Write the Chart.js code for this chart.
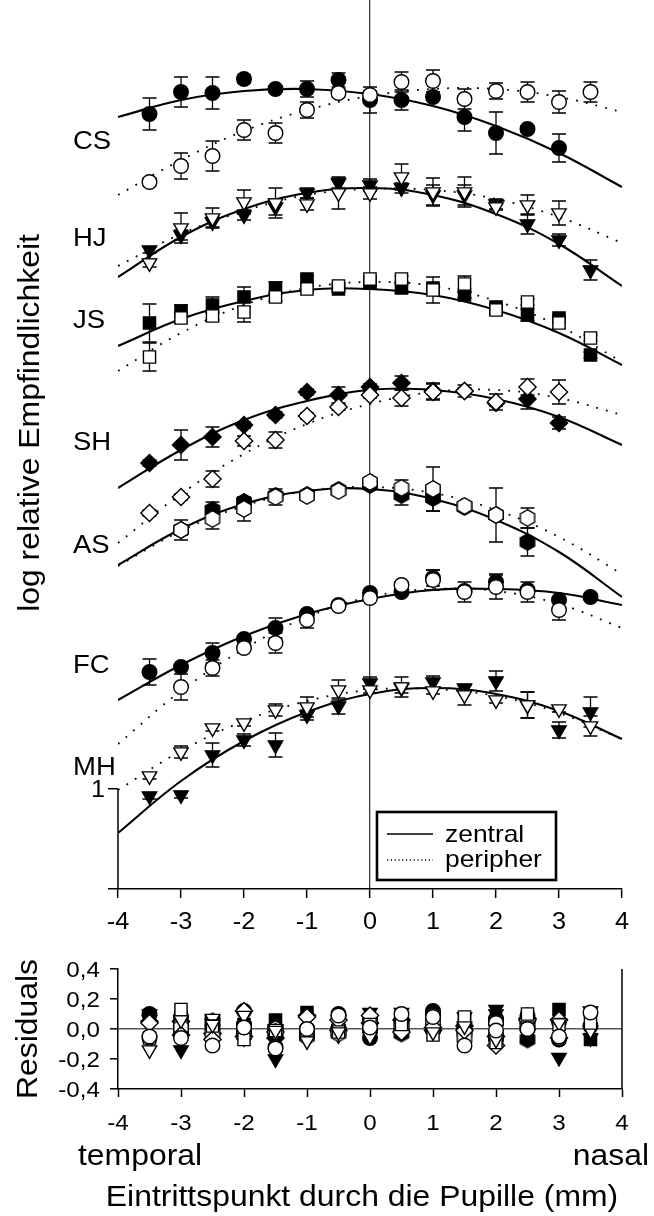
<!DOCTYPE html>
<html>
<head>
<meta charset="utf-8">
<script src="https://cdn.jsdelivr.net/npm/chart.js@4.4.1/dist/chart.umd.min.js"></script>
<style>
  html, body { margin: 0; padding: 0; background: #fff; }
  #page { position: relative; width: 654px; height: 1216px; overflow: hidden; }
  .panel { position: absolute; left: 0; }
</style>
</head>
<body>
<div id="page">
  <div class="panel" style="top:0;width:654px;height:950px"><canvas id="main" width="654" height="950"></canvas></div>
  <div class="panel" style="top:950px;width:654px;height:266px"><canvas id="resid" width="654" height="266"></canvas></div>
</div>
<script>
// Entry points through the pupil (mm) and x positions of the fitted curves
const xPos = [-3.5, -3, -2.5, -2, -1.5, -1, -0.5, 0, 0.5, 1, 1.5, 2, 2.5, 3, 3.5];
const xFit = [-4, -3, -2, -1, 0, 1, 2, 3, 4];
const xTicks = [-4, -3, -2, -1, 0, 1, 2, 3, 4];
const residualTicks = [-0.4, -0.2, 0, 0.2, 0.4];

// CS
const csZentral     = [6.75, 6.97, 6.96, 7.10, 7.00, 7.00, 7.09, 6.89, 6.89, 6.92, 6.72, 6.56, 6.60, 6.41, null];
const csZentralErr  = [0.16, 0.15, 0.16, 0.04, 0.03, 0.08, 0.07, 0.13, 0.10, 0.03, 0.14, 0.21, 0.03, 0.14, null];
const csPeripher    = [6.07, 6.23, 6.33, 6.59, 6.56, 6.79, 6.96, 6.94, 7.07, 7.08, 6.90, 6.98, 6.97, 6.87, 6.97];
const csPeripherErr = [0.04, 0.13, 0.15, 0.10, 0.10, 0.08, 0.04, 0.04, 0.10, 0.11, 0.10, 0.08, 0.10, 0.11, 0.10];
const csFitZentral  = [6.72, 6.89, 6.98, 7.00, 6.95, 6.83, 6.63, 6.36, 6.02];
const csFitPeripher = [5.94, 6.29, 6.58, 6.79, 6.93, 7.00, 7.00, 6.92, 6.77];
const csResZentral  = [-0.06, 0.08, 0.02, 0.12, 0.00, -0.01, 0.10, -0.06, -0.01, 0.10, -0.01, -0.07, 0.09, 0.05, null];
const csResPeripher = [-0.05, -0.06, -0.11, 0.01, -0.13, 0.00, 0.09, 0.01, 0.10, 0.08, -0.11, -0.01, 0.00, -0.05, 0.11];

// HJ
const hjZentral     = [5.39, 5.54, 5.67, 5.74, 5.82, 5.96, 6.06, 6.04, 6.01, 5.94, 5.94, 5.85, 5.65, 5.49, 5.19];
const hjZentralErr  = [0.03, 0.05, 0.05, 0.05, 0.08, 0.05, 0.05, 0.06, 0.05, 0.10, 0.10, 0.05, 0.10, 0.06, 0.10];
const hjPeripher    = [5.26, 5.61, 5.71, 5.87, 5.86, 5.85, 5.96, 5.96, 6.12, 5.97, 5.97, 5.82, 5.84, 5.76, null];
const hjPeripherErr = [0.04, 0.15, 0.10, 0.12, 0.15, 0.06, 0.16, 0.06, 0.13, 0.14, 0.15, 0.03, 0.10, 0.12, null];
const hjFitZentral  = [5.12, 5.52, 5.80, 5.96, 6.01, 5.94, 5.75, 5.45, 5.03];
const hjFitPeripher = [5.23, 5.55, 5.78, 5.94, 6.00, 5.99, 5.90, 5.72, 5.46];
const hjResZentral  = [0.06, 0.02, 0.06, -0.06, -0.07, -0.01, 0.06, 0.03, 0.02, 0.00, 0.08, 0.10, 0.03, 0.04, -0.06];
const hjResPeripher = [-0.14, 0.06, 0.03, 0.09, -0.01, -0.08, -0.02, -0.05, 0.11, -0.02, 0.02, -0.07, 0.02, 0.04, null];

// JS
const jsZentral     = [4.66, 4.78, 4.84, 4.92, 5.01, 5.10, 5.00, 5.06, 5.01, 5.01, 4.94, 4.82, 4.74, 4.71, 4.34];
const jsZentralErr  = [0.19, 0.06, 0.08, 0.10, 0.06, 0.03, 0.03, 0.03, 0.05, 0.03, 0.03, 0.03, 0.06, 0.03, 0.03];
const jsPeripher    = [4.32, 4.71, 4.73, 4.77, 4.92, 5.00, 5.03, 5.10, 5.10, 4.99, 5.05, 4.79, 4.87, 4.66, 4.51];
const jsPeripherErr = [0.14, 0.05, 0.04, 0.10, 0.04, 0.03, 0.03, 0.03, 0.03, 0.13, 0.08, 0.05, 0.03, 0.05, 0.03];
const jsFitZentral  = [4.43, 4.70, 4.88, 4.99, 5.00, 4.94, 4.79, 4.56, 4.24];
const jsFitPeripher = [4.18, 4.56, 4.84, 5.01, 5.07, 5.03, 4.88, 4.63, 4.27];
const jsResZentral  = [0.09, 0.08, 0.04, 0.03, 0.06, 0.11, -0.01, 0.05, 0.03, 0.07, 0.07, 0.03, 0.06, 0.13, -0.07];
const jsResPeripher = [-0.06, 0.13, 0.02, -0.07, -0.01, -0.01, -0.02, 0.03, 0.03, -0.04, 0.08, -0.09, 0.10, 0.03, 0.04];

// SH
const shZentral     = [3.26, 3.44, 3.52, 3.64, 3.74, 3.97, 3.94, 4.02, 4.06, 3.98, 3.98, 3.86, 3.90, 3.66, null];
const shZentralErr  = [0.03, 0.15, 0.10, 0.03, 0.03, 0.03, 0.08, 0.03, 0.07, 0.08, 0.03, 0.03, 0.10, 0.06, null];
const shPeripher    = [2.76, 2.92, 3.10, 3.48, 3.49, 3.73, 3.82, 3.94, 3.91, 3.97, 3.98, 3.87, 4.02, 3.97, null];
const shPeripherErr = [0.03, 0.03, 0.08, 0.05, 0.08, 0.03, 0.03, 0.03, 0.08, 0.08, 0.06, 0.08, 0.08, 0.12, null];
const shFitZentral  = [3.01, 3.39, 3.69, 3.88, 3.99, 3.99, 3.90, 3.72, 3.44];
const shFitPeripher = [2.46, 2.95, 3.35, 3.65, 3.85, 3.97, 3.99, 3.91, 3.74];
const shResZentral  = [0.05, 0.05, -0.03, -0.05, -0.06, 0.09, -0.01, 0.04, 0.06, -0.01, 0.02, -0.05, 0.07, -0.06, null];
const shResPeripher = [0.04, -0.04, -0.07, 0.12, -0.02, 0.08, 0.06, 0.09, -0.02, 0.01, -0.01, -0.11, 0.06, 0.06, null];

// AS
const asZentral     = [null, 2.59, 2.79, 2.87, 2.93, 2.94, 2.99, 3.04, 2.94, 2.91, 2.82, 2.74, 2.47, null, null];
const asZentralErr  = [null, 0.05, 0.08, 0.03, 0.03, 0.03, 0.03, 0.03, 0.10, 0.13, 0.03, 0.03, 0.14, null, null];
const asPeripher    = [null, 2.59, 2.70, 2.80, 2.92, 2.93, 2.98, 3.07, 3.01, 3.00, 2.83, 2.74, 2.71, null, null];
const asPeripherErr = [null, 0.10, 0.10, 0.12, 0.08, 0.03, 0.03, 0.03, 0.08, 0.22, 0.03, 0.27, 0.10, null, null];
const asFitZentral  = [2.24, 2.60, 2.85, 2.98, 3.00, 2.90, 2.69, 2.37, 1.92];
const asFitPeripher = [2.23, 2.58, 2.83, 2.98, 3.02, 2.96, 2.79, 2.52, 2.15];
const asResZentral  = [null, -0.01, 0.05, 0.02, 0.00, -0.04, -0.02, 0.04, -0.03, 0.00, 0.00, 0.05, -0.07, null, null];
const asResPeripher = [null, 0.01, -0.03, -0.04, 0.00, -0.05, -0.03, 0.05, 0.01, 0.04, -0.06, -0.05, 0.04, null, null];

// FC
const fcZentral     = [1.17, 1.22, 1.36, 1.50, 1.61, 1.75, 1.84, 1.96, 1.97, 2.11, 1.98, 2.07, 1.99, 1.89, 1.92];
const fcZentralErr  = [0.13, 0.03, 0.10, 0.03, 0.10, 0.03, 0.03, 0.03, 0.03, 0.08, 0.03, 0.08, 0.03, 0.03, 0.03];
const fcPeripher    = [null, 1.02, 1.21, 1.41, 1.46, 1.69, 1.83, 1.91, 2.04, 2.09, 1.97, 2.02, 1.97, 1.79, null];
const fcPeripherErr = [null, 0.13, 0.08, 0.03, 0.10, 0.08, 0.03, 0.03, 0.03, 0.10, 0.10, 0.12, 0.10, 0.10, null];
const fcFitZentral  = [0.89, 1.24, 1.53, 1.75, 1.90, 1.99, 2.00, 1.96, 1.84];
const fcFitPeripher = [0.45, 0.98, 1.40, 1.72, 1.92, 2.00, 1.98, 1.85, 1.61];
const fcResZentral  = [0.10, -0.02, -0.03, -0.03, -0.04, 0.00, 0.01, 0.06, 0.02, 0.12, -0.02, 0.07, 0.00, -0.07, 0.02];
const fcResPeripher = [null, 0.03, 0.00, 0.00, -0.12, -0.03, 0.00, -0.01, 0.07, 0.09, -0.04, 0.04, 0.04, -0.06, null];

// MH
const mhZentral     = [-0.07, -0.06, 0.34, 0.49, 0.44, 0.74, 0.83, 1.06, 1.01, 1.07, 1.01, 1.08, 0.84, 0.59, 0.77];
const mhZentralErr  = [0.03, 0.03, 0.12, 0.06, 0.12, 0.05, 0.08, 0.06, 0.05, 0.06, 0.03, 0.10, 0.13, 0.08, 0.15];
const mhPeripher    = [0.13, 0.37, 0.61, 0.66, 0.79, 0.82, 0.99, 0.99, 1.02, 0.98, 0.94, 0.89, 0.84, 0.80, 0.63];
const mhPeripherErr = [0.03, 0.06, 0.03, 0.03, 0.06, 0.10, 0.10, 0.03, 0.10, 0.03, 0.10, 0.03, 0.13, 0.03, 0.10];
const mhFitZentral  = [-0.44, 0.08, 0.48, 0.77, 0.95, 1.01, 0.95, 0.78, 0.50];
const mhFitPeripher = [-0.01, 0.38, 0.68, 0.88, 0.99, 1.00, 0.93, 0.76, 0.50];
const mhResZentral  = [0.10, -0.14, 0.04, 0.00, -0.20, -0.03, -0.04, 0.11, 0.02, 0.07, 0.01, 0.13, -0.04, -0.19, 0.12];
const mhResPeripher = [-0.07, -0.01, 0.07, -0.01, 0.00, -0.05, 0.05, 0.00, 0.01, -0.02, -0.04, -0.04, -0.01, 0.04, -0.01];

const subjects = [
  { name: 'CS', marker: 'circle',  zentral: csZentral, zentralErr: csZentralErr, peripher: csPeripher, peripherErr: csPeripherErr, fitZentral: csFitZentral, fitPeripher: csFitPeripher, resZentral: csResZentral, resPeripher: csResPeripher },
  { name: 'HJ', marker: 'down',    zentral: hjZentral, zentralErr: hjZentralErr, peripher: hjPeripher, peripherErr: hjPeripherErr, fitZentral: hjFitZentral, fitPeripher: hjFitPeripher, resZentral: hjResZentral, resPeripher: hjResPeripher },
  { name: 'JS', marker: 'square',  zentral: jsZentral, zentralErr: jsZentralErr, peripher: jsPeripher, peripherErr: jsPeripherErr, fitZentral: jsFitZentral, fitPeripher: jsFitPeripher, resZentral: jsResZentral, resPeripher: jsResPeripher },
  { name: 'SH', marker: 'diamond', zentral: shZentral, zentralErr: shZentralErr, peripher: shPeripher, peripherErr: shPeripherErr, fitZentral: shFitZentral, fitPeripher: shFitPeripher, resZentral: shResZentral, resPeripher: shResPeripher },
  { name: 'AS', marker: 'hexagon', zentral: asZentral, zentralErr: asZentralErr, peripher: asPeripher, peripherErr: asPeripherErr, fitZentral: asFitZentral, fitPeripher: asFitPeripher, resZentral: asResZentral, resPeripher: asResPeripher },
  { name: 'FC', marker: 'circle',  zentral: fcZentral, zentralErr: fcZentralErr, peripher: fcPeripher, peripherErr: fcPeripherErr, fitZentral: fcFitZentral, fitPeripher: fcFitPeripher, resZentral: fcResZentral, resPeripher: fcResPeripher },
  { name: 'MH', marker: 'down',    zentral: mhZentral, zentralErr: mhZentralErr, peripher: mhPeripher, peripherErr: mhPeripherErr, fitZentral: mhFitZentral, fitPeripher: mhFitPeripher, resZentral: mhResZentral, resPeripher: mhResPeripher }
];

const FONT = "'Liberation Sans', Arial, Helvetica, sans-serif";
const WIDE = 1.1;   // lettering is set slightly wide
Chart.defaults.font.family = FONT;
Chart.defaults.color = '#000';

function drawText(ctx, text, x, y, size, align, angle) {
  ctx.save();
  ctx.translate(x, y);
  if (angle) ctx.rotate(angle);
  ctx.scale(WIDE, 1);
  ctx.font = size + 'px ' + FONT;
  ctx.textAlign = align;
  ctx.textBaseline = 'alphabetic';
  ctx.fillStyle = '#000';
  ctx.fillText(text, 0, 0);
  ctx.restore();
}

// hexagon symbols (not among the built-in point styles)
function hexagonSymbol(fill) {
  const c = document.createElement('canvas');
  c.width = 20; c.height = 20;
  const g = c.getContext('2d');
  g.beginPath();
  for (let k = 0; k < 6; k++) {
    const a = -Math.PI / 2 + k * Math.PI / 3;
    const px = 10 + 8.3 * Math.cos(a), py = 10 + 8.3 * Math.sin(a);
    if (k === 0) g.moveTo(px, py); else g.lineTo(px, py);
  }
  g.closePath();
  g.fillStyle = fill; g.fill();
  g.lineWidth = 1.4; g.strokeStyle = '#000'; g.stroke();
  return c;
}
const hexFilled = hexagonSymbol('#000');
const hexOpen = hexagonSymbol('#fff');

const markers = {
  circle:  { style: 'circle',   radius: 7.3, rotation: 0 },
  down:    { style: 'triangle', radius: 8.3, rotation: 180 },
  square:  { style: 'rect',     radius: 8.6, rotation: 0 },
  diamond: { style: 'rectRot',  radius: 8.6, rotation: 0 },
  hexagon: { style: null,       radius: 8.5, rotation: 0 }
};

function pointSet(label, values, errs, marker, filled) {
  const data = [];
  xPos.forEach((x, i) => {
    if (values[i] !== null) data.push({ x: x, y: values[i], e: errs ? errs[i] : 0 });
  });
  const m = markers[marker];
  return {
    label: label,
    data: data,
    showLine: false,
    pointStyle: marker === 'hexagon' ? (filled ? hexFilled : hexOpen) : m.style,
    pointRadius: m.radius,
    pointHoverRadius: m.radius,
    pointRotation: m.rotation,
    pointBackgroundColor: filled ? '#000' : '#fff',
    pointBorderColor: '#000',
    pointBorderWidth: 1.4,
    errorBars: !!errs
  };
}

function fitSet(label, values, dotted) {
  return {
    label: label,
    data: xFit.map((x, i) => ({ x: x, y: values[i] })),
    showLine: true,
    pointRadius: 0,
    borderColor: '#000',
    borderWidth: dotted ? 1.8 : 2.1,
    borderDash: dotted ? [1.8, 8.2] : [],
    tension: 0.4,
    fill: false
  };
}

// error bars drawn just under each dataset's own symbols
const errorBarPlugin = {
  id: 'errorBars',
  beforeDatasetDraw(chart, args) {
    const ds = chart.data.datasets[args.index];
    if (!ds.errorBars) return;
    const ys = chart.scales.y, ctx = chart.ctx;
    ctx.save();
    ctx.strokeStyle = '#000';
    ctx.lineWidth = 1.3;
    args.meta.data.forEach((pt, i) => {
      const d = ds.data[i];
      if (!d || !d.e) return;
      const top = ys.getPixelForValue(d.y + d.e);
      const bot = ys.getPixelForValue(d.y - d.e);
      ctx.beginPath();
      ctx.moveTo(pt.x, top); ctx.lineTo(pt.x, bot);
      ctx.moveTo(pt.x - 7, top); ctx.lineTo(pt.x + 7, top);
      ctx.moveTo(pt.x - 7, bot); ctx.lineTo(pt.x + 7, bot);
      ctx.stroke();
    });
    ctx.restore();
  }
};

// tick labels for both panels, set in the same wide lettering as the rest
const tickLabelPlugin = {
  id: 'tickLabels',
  afterDraw(chart, args, opts) {
    const ctx = chart.ctx, xs = chart.scales.x, ys = chart.scales.y;
    xs.ticks.forEach(t => {
      drawText(ctx, String(t.value), xs.getPixelForValue(t.value), xs.top + opts.xOffset, opts.size, 'center');
    });
    ys.ticks.forEach(t => {
      const txt = opts.yFormat(t.value);
      if (txt) drawText(ctx, txt, ys.left + ys.width - opts.yGap, ys.getPixelForValue(t.value) + opts.size * 0.36, opts.size, 'right');
    });
  }
};

// subject initials, y-axis stub, axis title and the fit legend
const mainDecorPlugin = {
  id: 'mainDecor',
  afterDraw(chart, args, opts) {
    const ctx = chart.ctx, ys = chart.scales.y, area = chart.chartArea;
    ctx.save();
    // y axis line from "1" down to the x axis
    ctx.strokeStyle = '#000'; ctx.lineWidth = 1.5;
    ctx.beginPath();
    ctx.moveTo(area.left, ys.getPixelForValue(0));
    ctx.lineTo(area.left, area.bottom);
    ctx.stroke();
    ctx.restore();

    opts.labels.forEach(l => drawText(ctx, l.text, opts.labelX, ys.getPixelForValue(l.level) + opts.labelSize * 0.36, opts.labelSize, 'left'));

    drawText(ctx, opts.title, opts.titleX, opts.titleY, opts.titleSize, 'center', -Math.PI / 2);

    // legend box
    const lg = opts.legend;
    const bx = area.left + lg.dx, by = area.bottom - lg.dy;
    ctx.save();
    ctx.lineWidth = 2.6; ctx.strokeStyle = '#000';
    ctx.strokeRect(bx, by, lg.w, lg.h);
    ctx.lineWidth = 1.3;
    ctx.beginPath();
    ctx.moveTo(bx + 10, by + 22); ctx.lineTo(bx + 56, by + 22);
    ctx.stroke();
    ctx.setLineDash([1.2, 2.6]);
    ctx.beginPath();
    ctx.moveTo(bx + 10, by + 48); ctx.lineTo(bx + 56, by + 48);
    ctx.stroke();
    ctx.restore();
    drawText(ctx, lg.items[0], bx + 68, by + 30, lg.size, 'left');
    drawText(ctx, lg.items[1], bx + 68, by + 55, lg.size, 'left');
  }
};

const residDecorPlugin = {
  id: 'residDecor',
  afterDraw(chart, args, opts) {
    const ctx = chart.ctx, area = chart.chartArea;
    ctx.save();
    // right-hand frame line
    ctx.strokeStyle = '#000'; ctx.lineWidth = 1.5;
    ctx.beginPath();
    ctx.moveTo(area.right, area.top); ctx.lineTo(area.right, area.bottom);
    ctx.stroke();
    ctx.restore();

    drawText(ctx, opts.yTitle, opts.titleX, (area.top + area.bottom) / 2, opts.size, 'center', -Math.PI / 2);
    drawText(ctx, opts.leftSide, opts.leftX, opts.sideY, opts.size, 'left');
    drawText(ctx, opts.rightSide, opts.rightX, opts.sideY, opts.size, 'right');
    drawText(ctx, opts.xTitle, opts.xTitleX, opts.xTitleY, opts.size, 'center');
  }
};

const noScalePadding = s => { s.paddingTop = 0; s.paddingBottom = 0; s.paddingLeft = 0; s.paddingRight = 0; };

// main panel datasets: open symbols on top, then filled, fitted curves underneath
const mainSets = [];
subjects.forEach(s => mainSets.push(pointSet(s.name + ' peripher', s.peripher, s.peripherErr, s.marker, false)));
subjects.forEach(s => mainSets.push(pointSet(s.name + ' zentral', s.zentral, s.zentralErr, s.marker, true)));
subjects.forEach(s => {
  mainSets.push(fitSet(s.name + ' Fit zentral', s.fitZentral, false));
  mainSets.push(fitSet(s.name + ' Fit peripher', s.fitPeripher, true));
});

new Chart(document.getElementById('main'), {
  type: 'line',
  data: { datasets: mainSets },
  plugins: [errorBarPlugin, tickLabelPlugin, mainDecorPlugin],
  options: {
    responsive: false,
    animation: false,
    events: [],
    layout: { autoPadding: false, padding: { left: 0, right: 32, top: 0, bottom: 0 } },
    plugins: {
      legend: { display: false },
      tooltip: { enabled: false },
      tickLabels: { size: 23, xOffset: 40, yGap: 13, yFormat: v => (v === 0 ? '1' : '') },
      mainDecor: {
        labelX: 73, labelSize: 25,
        labels: [
          { text: 'CS', level: 6.49 }, { text: 'HJ', level: 5.52 }, { text: 'JS', level: 4.70 },
          { text: 'SH', level: 3.48 }, { text: 'AS', level: 2.45 }, { text: 'FC', level: 1.25 },
          { text: 'MH', level: 0.23 }
        ],
        title: 'log relative Empfindlichkeit',
        titleX: 39, titleY: 423, titleSize: 29,
        legend: { dx: 259, dy: 77, w: 179, h: 68, size: 24, items: ['zentral', 'peripher'] }
      }
    },
    scales: {
      x: {
        type: 'linear', min: -4, max: 4,
        afterBuildTicks: s => { s.ticks = xTicks.map(v => ({ value: v })); },
        afterFit: s => { s.height = 61; noScalePadding(s); },
        ticks: { display: false },
        grid: {
          color: c => (c.tick && c.tick.value === 0) ? '#3a3a3a' : 'rgba(0,0,0,0)',
          lineWidth: 1.3, tickColor: '#000', tickWidth: 1.5, tickLength: 9, drawOnChartArea: true
        },
        border: { display: true, color: '#000', width: 1.6 }
      },
      y: {
        type: 'linear', min: -1, max: 7.89,
        afterBuildTicks: s => { s.ticks = [{ value: -1 }, { value: 0 }]; },
        afterFit: s => { s.width = 118; noScalePadding(s); },
        ticks: { display: false },
        grid: { drawOnChartArea: false, tickLength: 10, tickColor: '#000', tickWidth: 1.5, lineWidth: 1.5 },
        border: { display: false }
      }
    }
  }
});

// residual panel
const residSets = [];
subjects.forEach(s => residSets.push(pointSet(s.name + ' peripher', s.resPeripher, null, s.marker, false)));
subjects.forEach(s => residSets.push(pointSet(s.name + ' zentral', s.resZentral, null, s.marker, true)));

const commaLabel = v => (Math.abs(v) < 1e-9 ? '0,0' : v.toFixed(1).replace('.', ','));

new Chart(document.getElementById('resid'), {
  type: 'line',
  data: { datasets: residSets },
  plugins: [tickLabelPlugin, residDecorPlugin],
  options: {
    responsive: false,
    animation: false,
    events: [],
    layout: { autoPadding: false, padding: { left: 0, right: 32, top: 19, bottom: 0 } },
    plugins: {
      legend: { display: false },
      tooltip: { enabled: false },
      tickLabels: { size: 22, xOffset: 41, yGap: 18, yFormat: commaLabel },
      residDecor: {
        size: 29,
        yTitle: 'Residuals', titleX: 37,
        leftSide: 'temporal', leftX: 78,
        rightSide: 'nasal', rightX: 649,
        sideY: 215,
        xTitle: 'Eintrittspunkt durch die Pupille (mm)', xTitleX: 362, xTitleY: 256
      }
    },
    scales: {
      x: {
        type: 'linear', min: -4, max: 4,
        afterBuildTicks: s => { s.ticks = xTicks.map(v => ({ value: v })); },
        afterFit: s => { s.height = 127; noScalePadding(s); },
        ticks: { display: false },
        grid: { drawOnChartArea: false, tickColor: '#000', tickWidth: 1.5, tickLength: 8 },
        border: { display: true, color: '#000', width: 1.5 }
      },
      y: {
        type: 'linear', min: -0.4, max: 0.4,
        afterBuildTicks: s => { s.ticks = residualTicks.map(v => ({ value: v })); },
        afterFit: s => { s.width = 118; noScalePadding(s); },
        ticks: { display: false },
        grid: {
          color: c => (c.tick && Math.abs(c.tick.value) < 1e-9) ? '#555' : 'rgba(0,0,0,0)',
          lineWidth: 1.6, tickColor: '#000', tickWidth: 1.5, tickLength: 8, drawOnChartArea: true
        },
        border: { display: true, color: '#000', width: 1.5 }
      }
    }
  }
});
</script>
</body>
</html>
